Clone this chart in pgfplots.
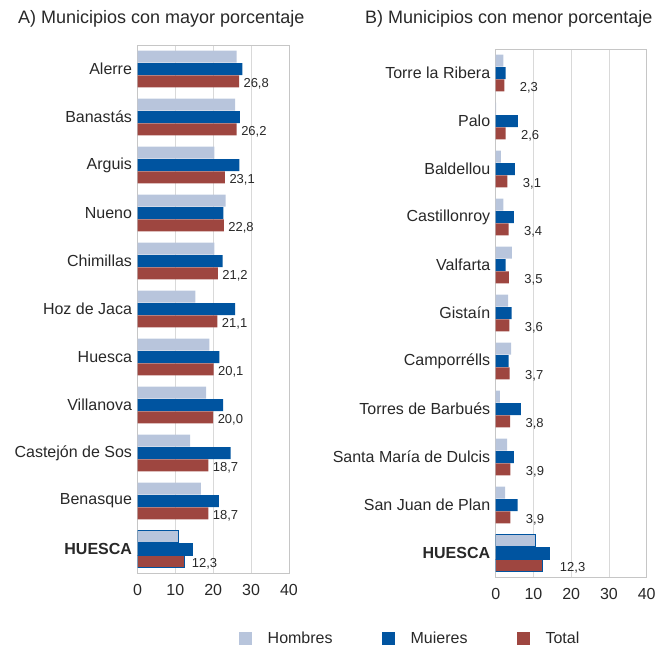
\documentclass[border=0pt]{standalone}
\usepackage{pgfplots}
\pgfplotsset{compat=1.18}
\usepackage{fontspec}
\setmainfont{Liberation Sans}
\definecolor{hom}{RGB}{184,197,220}
\definecolor{muj}{RGB}{0,84,160}
\definecolor{tot}{RGB}{158,70,64}
\definecolor{txt}{RGB}{40,40,40}
\pgfplotsset{
 panel/.style={
   scale only axis, xbar, y dir=reverse, xmin=0, xmax=40, ymin=-0.5, ymax=10.5,
   xtick={0,10,20,30,40}, ytick={0,...,10}, bar width=0.25,
   major tick length=0pt, xmajorgrids, grid style={draw=gray!30, line width=0.8bp},
   axis line style={draw=gray!45, line width=0.8bp},
   /pgf/number format/assume math mode=true,
   tick label style={font=\fontsize{16bp}{19bp}\selectfont, text=txt},
   x tick label style={yshift=-7.5bp},
   y tick label style={xshift=-2bp},
   legend image code/.code={\fill[##1] (0bp,-6.5bp) rectangle (13bp,6.5bp);},
 },
 totlab/.style={nodes near coords={\pgfmathprintnumber[fixed,fixed zerofill,precision=1,use comma,assume math mode=true]{\pgfplotspointmeta}},
   point meta=x,
   nodes near coords style={anchor=west, font=\fontsize{13bp}{15bp}\selectfont, text=txt, xshift=#1, yshift=-2bp}},
}
\begin{document}
\begin{tikzpicture}
\path[use as bounding box] (0,0) rectangle (658bp,-647bp);
\node[anchor=west, inner sep=0pt, font=\fontsize{18bp}{22bp}\selectfont, text=txt] at (18bp,-19bp) {A) Municipios con mayor porcentaje};
\node[anchor=west, inner sep=0pt, font=\fontsize{18bp}{22bp}\selectfont, text=txt] at (365bp,-19bp) {B) Municipios con menor porcentaje};
% Left panel
\begin{axis}[panel, at={(137.5bp,-45bp)}, anchor=north west, width=151.5bp, height=528bp,
  yticklabels={Alerre,Banastás,Arguis,Nueno,Chimillas,Hoz de Jaca,Huesca,Villanova,Castejón de Sos,Benasque,\textbf{HUESCA}},
  legend columns=3,
  legend style={draw=none, fill=none, inner sep=0pt, at={(0.67,-0.124)}, anchor=west,
    font=\fontsize{16bp}{19bp}\selectfont, text=txt,
    nodes={inner xsep=15.5bp, inner ysep=1bp},
    /tikz/every even column/.append style={column sep=34bp}},
]
\addplot[fill=hom, draw=none, bar shift=-0.26] coordinates {(26.2,0) (25.8,1) (20.3,2) (23.3,3) (20.3,4) (15.3,5) (19.0,6) (18.1,7) (13.9,8) (16.7,9)};
\addplot[fill=muj, draw=none, bar shift=0] coordinates {(27.7,0) (27.0,1) (26.9,2) (22.7,3) (22.5,4) (25.8,5) (21.6,6) (22.6,7) (24.6,8) (21.5,9)};
\addplot[fill=tot, draw=none, bar shift=0.26, totlab=1bp] coordinates {(26.8,0) (26.2,1) (23.1,2) (22.8,3) (21.2,4) (21.1,5) (20.1,6) (20.0,7) (18.7,8) (18.7,9)};
\addplot[fill=hom, draw=muj, line width=1bp, bar shift=-0.26, forget plot] coordinates {(10.8,10)};
\addplot[fill=muj, draw=muj, line width=1bp, bar shift=0, forget plot] coordinates {(14.4,10)};
\addplot[fill=tot, draw=muj, line width=1bp, bar shift=0.26, forget plot, totlab=4bp] coordinates {(12.3,10)};
\legend{Hombres,Muieres,Total}
\end{axis}
% Right panel
\begin{axis}[panel, at={(495.7bp,-49bp)}, anchor=north west, width=151bp, height=528bp,
  yticklabels={Torre la Ribera,Palo,Baldellou,Castillonroy,Valfarta,Gistaín,Camporrélls,Torres de Barbués,Santa María de Dulcis,San Juan de Plan,\textbf{HUESCA}},
]
\addplot[fill=hom, draw=none, bar shift=-0.26] coordinates {(2.0,0) (0.1,1) (1.4,2) (2.0,3) (4.3,4) (3.3,5) (4.1,6) (1.1,7) (3.0,8) (2.5,9)};
\addplot[fill=muj, draw=none, bar shift=0] coordinates {(2.6,0) (5.9,1) (5.1,2) (4.8,3) (2.6,4) (4.2,5) (3.4,6) (6.7,7) (4.8,8) (5.8,9)};
\addplot[fill=tot, draw=none, bar shift=0.26, totlab=12bp] coordinates {(2.3,0) (2.6,1) (3.1,2) (3.4,3) (3.5,4) (3.6,5) (3.7,6) (3.8,7) (3.9,8) (3.9,9)};
\addplot[fill=hom, draw=muj, line width=1bp, bar shift=-0.26] coordinates {(10.6,10)};
\addplot[fill=muj, draw=muj, line width=1bp, bar shift=0] coordinates {(14.3,10)};
\addplot[fill=tot, draw=muj, line width=1bp, bar shift=0.26, totlab=14bp] coordinates {(12.3,10)};
\end{axis}
\end{tikzpicture}
\end{document}
